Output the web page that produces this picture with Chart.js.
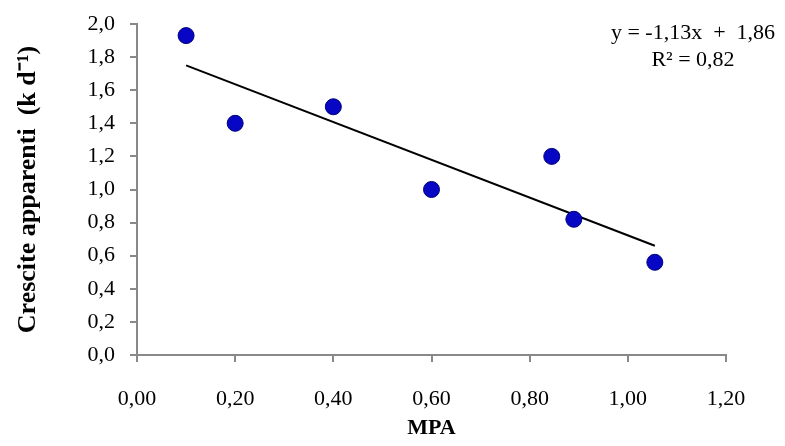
<!DOCTYPE html>
<html>
<head>
<meta charset="utf-8">
<script src="https://cdn.jsdelivr.net/npm/chart.js@4"></script>
<style>
    html, body { margin: 0; padding: 0; background: #fff; }
    #wrap { width: 785px; height: 446px; }
</style>
</head>
<body>
<div id="wrap"><canvas id="chart" width="785" height="446"></canvas></div>
<script>
// Measured points (MPA vs apparent growth)
const mpaValues = [0.10, 0.20, 0.40, 0.60, 0.845, 0.89, 1.055];
const growthValues = [1.93, 1.40, 1.50, 1.00, 1.20, 0.82, 0.56];

// Linear trend line endpoints as drawn
const trendX = [0.10, 1.055];
const trendY = [1.75, 0.66];

const equationLines = ['y = -1,13x  +  1,86', 'R² = 0,82'];

const xTitle = 'MPA';
const yTitle = 'Crescite apparenti  (k d⁻¹)';

const serif = '"Liberation Serif", "Times New Roman", serif';

const toPoints = (xs, ys) => xs.map((x, i) => ({ x: x, y: ys[i] }));
const commaFmt = (digits) => (v) => Number(v).toFixed(digits).replace('.', ',');

// Regression label in the top right corner
const equationPlugin = {
    id: 'equation',
    afterDraw(chart) {
        const ctx = chart.ctx;
        ctx.save();
        ctx.fillStyle = '#000';
        ctx.font = '22px ' + serif;
        ctx.textAlign = 'center';
        ctx.textBaseline = 'middle';
        ctx.fillText(equationLines[0], 693, 33);
        ctx.fillText(equationLines[1], 693, 60);
        ctx.restore();
    }
};

new Chart(document.getElementById('chart'), {
    type: 'scatter',
    data: {
        datasets: [
            {
                label: 'trend',
                type: 'line',
                data: toPoints(trendX, trendY),
                borderColor: '#000',
                borderWidth: 2,
                pointRadius: 0,
                fill: false,
                order: 2
            },
            {
                label: 'dati',
                data: toPoints(mpaValues, growthValues),
                backgroundColor: '#0606c4',
                borderColor: '#000078',
                borderWidth: 1,
                pointRadius: 8,
                pointHoverRadius: 8,
                order: 1
            }
        ]
    },
    options: {
        responsive: false,
        animation: false,
        layout: { padding: { top: 24, right: 59, left: 0, bottom: 0 } },
        plugins: {
            legend: { display: false },
            tooltip: { enabled: false }
        },
        scales: {
            x: {
                type: 'linear',
                min: 0,
                max: 1.2,
                ticks: {
                    stepSize: 0.2,
                    color: '#000',
                    font: { family: serif, size: 22 },
                    padding: 24,
                    callback: commaFmt(2)
                },
                grid: { drawOnChartArea: false, tickLength: 7, color: '#898989', lineWidth: 2 },
                border: { color: '#898989', width: 2 },
                title: {
                    display: true,
                    text: xTitle,
                    color: '#000',
                    font: { family: serif, size: 22, weight: 'bold' },
                    padding: { top: 10 }
                },
                afterFit(scale) { scale.height = 91; }
            },
            y: {
                type: 'linear',
                min: 0,
                max: 2,
                ticks: {
                    stepSize: 0.2,
                    color: '#000',
                    font: { family: serif, size: 22 },
                    padding: 15,
                    callback: commaFmt(1)
                },
                grid: { drawOnChartArea: false, tickLength: 7, color: '#898989', lineWidth: 2 },
                border: { color: '#898989', width: 2 },
                title: {
                    display: true,
                    text: yTitle,
                    color: '#000',
                    font: { family: serif, size: 26, weight: 'bold' },
                    padding: { top: 13, bottom: 8 }
                },
                afterFit(scale) {
                    scale.width = 137;
                    scale.paddingTop = 0;
                    scale.paddingBottom = 0;
                }
            }
        }
    },
    plugins: [equationPlugin]
});
</script>
</body>
</html>
